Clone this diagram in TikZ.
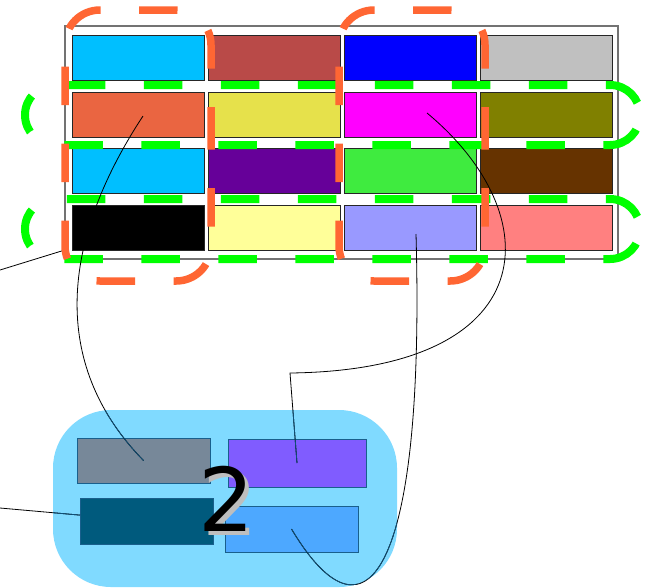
\documentclass[tikz,border=0pt]{standalone}
\usepackage{fontspec}
\newfontfamily\digitfont{DejaVu Sans}
\definecolor{cA}{HTML}{00BFFF}
\definecolor{cB}{HTML}{B94A48}
\definecolor{cC}{HTML}{0000FF}
\definecolor{cD}{HTML}{C0C0C0}
\definecolor{cE}{HTML}{EA6541}
\definecolor{cF}{HTML}{E6E14B}
\definecolor{cG}{HTML}{FF00FF}
\definecolor{cH}{HTML}{808000}
\definecolor{cI}{HTML}{660099}
\definecolor{cJ}{HTML}{3FEB3F}
\definecolor{cK}{HTML}{663300}
\definecolor{cL}{HTML}{000000}
\definecolor{cM}{HTML}{FFFF99}
\definecolor{cN}{HTML}{9999FF}
\definecolor{cO}{HTML}{FF8080}
\definecolor{orangeD}{RGB}{255,102,51}
\definecolor{greenD}{RGB}{0,255,0}
\definecolor{clusterblue}{RGB}{128,218,255}
\definecolor{boxborder}{RGB}{25,95,140}
\definecolor{bGray}{HTML}{778899}
\definecolor{bPurple}{RGB}{128,92,255}
\definecolor{bTeal}{RGB}{0,90,125}
\definecolor{bBlue}{RGB}{77,168,255}
\definecolor{lineblue}{RGB}{15,80,120}
\definecolor{framegray}{RGB}{115,115,115}
\begin{document}
\begin{tikzpicture}[x=1pt,y=-1pt,
  cell/.style={draw=black!85, line width=0.8pt, minimum width=132pt, minimum height=45pt, inner sep=0pt, outer sep=0pt},
  gdash/.style={draw=greenD, line width=8pt, dash pattern=on 38.5pt off 38.5pt, dash phase=64.4pt},
  odash/.style={draw=orangeD, line width=7.5pt, dash pattern=on 38.5pt off 38.5pt, dash phase=0pt},
  box/.style={draw=boxborder, line width=0.8pt, inner sep=0pt, outer sep=0pt},
  conn/.style={draw=black, line width=0.8pt}]
\useasboundingbox (0,0) rectangle (652,587);
\coordinate (l1) at (0,270);
\coordinate (l2) at (0,508);
\coordinate (bend) at (290,373);
% line to black cell, hidden by the frame
\node[cell, draw=none] (c41ghost) at (138,227.5) {};
\draw[conn] (l1) -- (c41ghost);
% frame
\node[draw=framegray, fill=white, line width=1.5pt, minimum width=553pt, minimum height=233pt, inner sep=0pt, outer sep=0pt] (grid) at (341.5,142.5) {};
% cells
\node[cell, fill=cA] (c11) at (138,57.5) {};
\node[cell, fill=cB] (c12) at (274,57.5) {};
\node[cell, fill=cC] (c13) at (410.5,57.5) {};
\node[cell, fill=cD] (c14) at (546.5,57.5) {};
\node[cell, fill=cE] (c21) at (138,114.5) {};
\node[cell, fill=cF] (c22) at (274,114.5) {};
\node[cell, fill=cG] (c23) at (410.5,114.5) {};
\node[cell, fill=cH] (c24) at (546.5,114.5) {};
\node[cell, fill=cA] (c31) at (138,171) {};
\node[cell, fill=cI] (c32) at (274,171) {};
\node[cell, fill=cJ] (c33) at (410.5,171) {};
\node[cell, fill=cK] (c34) at (546.5,171) {};
\node[cell, fill=cL] (c41) at (138,227.5) {};
\node[cell, fill=cM] (c42) at (274,227.5) {};
\node[cell, fill=cN] (c43) at (410.5,227.5) {};
\node[cell, fill=cO] (c44) at (546.5,227.5) {};
% green dashed groups
\draw[gdash] (640,115) .. controls (640,98.43) and (626.57,85) .. (610,85) -- (55,85)
  .. controls (38.43,85) and (25,98.43) .. (25,115) .. controls (25,131.57) and (38.43,145) .. (55,145)
  -- (610,145) .. controls (626.57,145) and (640,131.57) .. (640,115) -- cycle;
\draw[gdash] (640,229) .. controls (640,212.43) and (626.57,199) .. (610,199) -- (55,199)
  .. controls (38.43,199) and (25,212.43) .. (25,229) .. controls (25,245.57) and (38.43,259) .. (55,259)
  -- (610,259) .. controls (626.57,259) and (640,245.57) .. (640,229) -- cycle;
% orange dashed groups
\draw[odash] (211,145.5) -- (211,45) .. controls (211,25.67) and (195.67,10) .. (176,10) -- (100,10)
  .. controls (80.67,10) and (65,25.67) .. (65,45) -- (65,246) .. controls (65,265.33) and (80.67,281) .. (100,281)
  -- (176,281) .. controls (195.67,281) and (211,265.33) .. (211,246) -- cycle;
\draw[odash] (485,145.5) -- (485,45) .. controls (485,25.67) and (469.67,10) .. (450,10) -- (374,10)
  .. controls (354.67,10) and (339,25.67) .. (339,45) -- (339,246) .. controls (339,265.33) and (354.67,281) .. (374,281)
  -- (450,281) .. controls (469.67,281) and (485,265.33) .. (485,246) -- cycle;
% cluster
\node[fill=clusterblue, rounded corners=58pt, minimum width=344pt, minimum height=177pt, inner sep=0pt, outer sep=0pt] (cluster) at (225,498.5) {};
\node[box, fill=bGray, minimum width=133pt, minimum height=45pt] (gray) at (143.5,460.5) {};
\node[box, fill=bPurple, minimum width=138pt, minimum height=48pt] (purple) at (297,463) {};
\node[box, fill=bTeal, minimum width=133pt, minimum height=46pt] (teal) at (146.5,521) {};
\node[box, fill=bBlue, minimum width=133pt, minimum height=46pt] (blue) at (291.5,529) {};
\node[text={rgb,255:red,190;green,190;blue,190}, inner sep=0pt] (twoshadow) at (230,502.5) {\digitfont\fontsize{88}{88}\selectfont 2};
\node[text=black, inner sep=0pt] (two) at (226,498.5) {\digitfont\fontsize{88}{88}\selectfont 2};
% connectors
\draw[conn] ([shift={(5,1.5)}]c21.center) .. controls (55,250) and (55,370) .. (gray.center);
\draw[conn] ([shift={(16.5,-1.5)}]c23.center) .. controls (550,215) and (545,370) .. (bend) -- (purple.center);
\draw[conn] ([shift={(5.5,6.5)}]c43.center) .. controls (425,560) and (370,660) .. (blue.center);
\draw[conn] (l2) -- (teal);
\begin{scope}
\clip[rounded corners=58pt] (53,410) rectangle (397,587);
\draw[conn, draw=lineblue] ([shift={(5,1.5)}]c21.center) .. controls (55,250) and (55,370) .. (gray.center);
\draw[conn, draw=lineblue] ([shift={(16.5,-1.5)}]c23.center) .. controls (550,215) and (545,370) .. (bend) -- (purple.center);
\draw[conn, draw=lineblue] ([shift={(5.5,6.5)}]c43.center) .. controls (425,560) and (370,660) .. (blue.center);
\draw[conn, draw=lineblue] (l2) -- (teal);
\end{scope}
\end{tikzpicture}
\end{document}
